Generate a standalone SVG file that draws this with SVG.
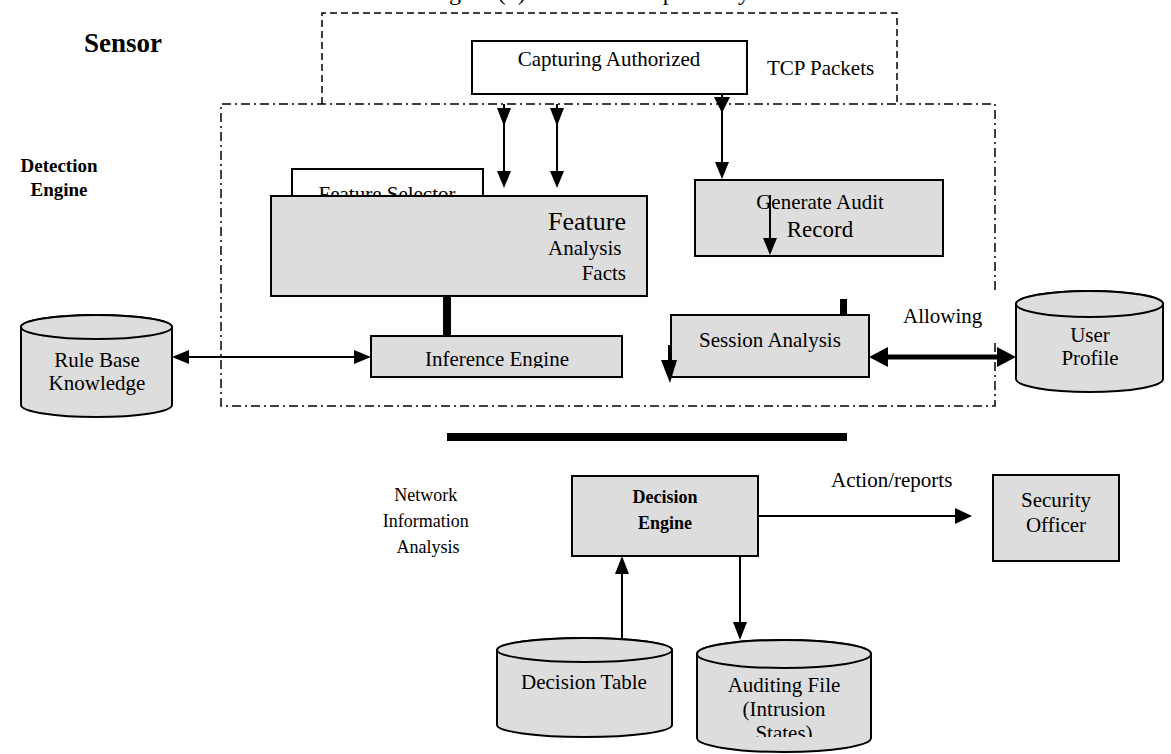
<svg xmlns="http://www.w3.org/2000/svg" width="1171" height="754" viewBox="0 0 1171 754">
  <style>
    text { font-family: "Liberation Serif", "Times New Roman", serif; fill: #000; }
    .t21 { font-size: 21px; }
    .mid { text-anchor: middle; }
    .bold { font-weight: bold; }
    .box { fill: #dddddd; stroke: #000; stroke-width: 2; }
    .wbox { fill: #fff; stroke: #000; stroke-width: 2; }
    .cyl { fill: #dddddd; stroke: #000; stroke-width: 2; }
    .dash { fill: none; stroke: #000; stroke-width: 1.5; stroke-dasharray: 7 4; }
    .dashdot { fill: none; stroke: #000; stroke-width: 1.5; stroke-dasharray: 9 4 2 4; }
    .line { stroke: #000; stroke-width: 2; fill: none; }
    .head { fill: #000; stroke: none; }
  </style>
  <defs>
    <clipPath id="clipInference"><rect x="371" y="336" width="251" height="32"/></clipPath>
    <clipPath id="clipAudit"><rect x="697" y="660" width="174" height="77"/></clipPath>
  </defs>

  <rect width="1171" height="754" fill="#fff"/>

  <!-- caption running off the top edge -->
  <text x="429" y="-0.5" style="font-size:24px">Figure (1)</text>
  <text x="586" y="-0.5" style="font-size:24px">The Proposed System</text>

  <!-- sensor boundary (dashed) -->
  <g id="sensor-area">
    <path class="dash" d="M322,104 V13 H897 V104"/>
    <text x="84" y="52" class="bold" style="font-size:27px">Sensor</text>
  </g>

  <!-- detection engine boundary (dash-dot) -->
  <g id="detection-area">
    <path class="dashdot" d="M995,290 V104 H221 V406 H995 V340"/>
    <text x="59" y="172" class="mid bold" style="font-size:19px">Detection</text>
    <text x="59" y="196" class="mid bold" style="font-size:19px">Engine</text>
  </g>

  <g id="capturing">
    <rect class="wbox" x="472" y="41" width="275" height="53"/>
    <text x="609" y="66" class="t21 mid">Capturing Authorized</text>
  </g>
  <text id="tcp-label" x="767" y="75" class="t21">TCP Packets</text>

  <g id="feature-selector">
    <rect class="wbox" x="292" y="169" width="191" height="40"/>
    <text x="387" y="201" class="t21 mid">Feature Selector</text>
  </g>

  <g id="feature-analysis">
    <rect class="box" x="271" y="196" width="376" height="100"/>
    <text x="626" y="230" style="font-size:26px" text-anchor="end">Feature</text>
    <text x="548" y="255" class="t21">Analysis</text>
    <text x="626" y="280" class="t21" text-anchor="end">Facts</text>
  </g>

  <g id="inference-engine">
    <rect class="box" x="371" y="336" width="251" height="41"/>
    <text x="497" y="366" class="t21 mid" clip-path="url(#clipInference)">Inference Engine</text>
  </g>

  <g id="generate-audit">
    <rect class="box" x="695" y="180" width="248" height="76"/>
    <text x="820" y="209" class="t21 mid">Generate Audit</text>
    <text x="820" y="237" class="mid" style="font-size:23px">Record</text>
  </g>

  <g id="session-analysis">
    <rect class="box" x="671" y="315" width="198" height="62"/>
    <text x="770" y="347" class="t21 mid">Session Analysis</text>
  </g>

  <g id="rule-base">
    <path class="cyl" d="M21,327 V405 A75.5,12 0 0 0 172,405 V327 A75.5,12 0 0 0 21,327 Z"/>
    <ellipse class="cyl" cx="96.5" cy="327" rx="75.5" ry="12"/>
    <text x="97" y="367" class="t21 mid">Rule Base</text>
    <text x="97" y="390" class="t21 mid">Knowledge</text>
  </g>

  <g id="user-profile">
    <path class="cyl" d="M1016,304 V379 A73.5,13 0 0 0 1163,379 V304 A73.5,13 0 0 0 1016,304 Z"/>
    <ellipse class="cyl" cx="1089.5" cy="304" rx="73.5" ry="13"/>
    <text x="1090" y="342" class="t21 mid">User</text>
    <text x="1090" y="365" class="t21 mid">Profile</text>
  </g>
  <text id="allowing-label" x="903" y="323" class="t21">Allowing</text>

  <text id="network-label" class="mid" style="font-size:18px">
    <tspan x="428" y="501">Network</tspan>
    <tspan x="428" y="527">Information</tspan>
    <tspan x="428" y="553">Analysis</tspan>
  </text>

  <g id="decision-engine">
    <rect class="box" x="572" y="476" width="186" height="80"/>
    <text x="665" y="503" class="mid bold" style="font-size:18px">Decision</text>
    <text x="665" y="529" class="mid bold" style="font-size:18px">Engine</text>
  </g>
  <text id="action-label" x="831" y="487" class="t21">Action/reports</text>

  <g id="security-officer">
    <rect class="box" x="993" y="475" width="126" height="86"/>
    <text x="1056" y="507" class="t21 mid">Security</text>
    <text x="1056" y="532" class="t21 mid">Officer</text>
  </g>

  <g id="decision-table">
    <path class="cyl" d="M497,650 V725 A87.5,12 0 0 0 672,725 V650 A87.5,12 0 0 0 497,650 Z"/>
    <ellipse class="cyl" cx="584.5" cy="650" rx="87.5" ry="12"/>
    <text x="584" y="689" class="t21 mid">Decision Table</text>
  </g>

  <g id="auditing-file">
    <path class="cyl" d="M697,654 V738 A87,14 0 0 0 871,738 V654 A87,14 0 0 0 697,654 Z"/>
    <ellipse class="cyl" cx="784" cy="654" rx="87" ry="14"/>
    <g clip-path="url(#clipAudit)">
      <text x="784" y="692" class="t21 mid">Auditing File</text>
      <text x="784" y="716" class="t21 mid">(Intrusion</text>
      <text x="784" y="740" class="t21 mid">States)</text>
    </g>
  </g>

  <!-- connectors -->
  <g id="connectors">
    <!-- packets into feature analysis -->
    <line class="line" x1="504" y1="104" x2="504" y2="176"/>
    <polygon class="head" points="497,108 511,108 504,126"/>
    <polygon class="head" points="497,171 511,171 504,188"/>
    <line class="line" x1="557" y1="104" x2="557" y2="176"/>
    <polygon class="head" points="550,108 564,108 557,126"/>
    <polygon class="head" points="550,171 564,171 557,188"/>

    <!-- capture to audit record -->
    <line class="line" x1="722" y1="94" x2="722" y2="168"/>
    <polygon class="head" points="714,97 730,97 722,113"/>
    <polygon class="head" points="715,162 729,162 722,179"/>

    <!-- inside audit record -->
    <line class="line" x1="770" y1="195" x2="770" y2="242"/>
    <polygon class="head" points="763,238 777,238 770,255"/>

    <!-- feature facts to inference -->
    <rect class="head" x="443" y="297" width="8" height="39"/>

    <!-- rule base <-> inference -->
    <line class="line" x1="186" y1="357" x2="357" y2="357"/>
    <polygon class="head" points="172,357 189,350 189,364"/>
    <polygon class="head" points="371,357 354,350 354,364"/>

    <!-- session analysis stubs -->
    <rect class="head" x="840" y="299" width="7" height="16"/>
    <rect class="head" x="668" y="345" width="4" height="18"/>
    <polygon class="head" points="661,360 677,360 670,383"/>

    <!-- session <-> user profile -->
    <line x1="885" y1="357" x2="1000" y2="357" stroke="#000" stroke-width="5"/>
    <polygon class="head" points="869,357 888,347 888,367"/>
    <polygon class="head" points="1016,357 997,347 997,367"/>

    <!-- separator bar -->
    <rect class="head" x="447" y="433" width="400" height="8"/>

    <!-- decision engine to security officer -->
    <line class="line" x1="758" y1="516" x2="958" y2="516"/>
    <polygon class="head" points="972,516 955,508 955,524"/>

    <!-- decision table up to decision engine -->
    <line class="line" x1="622" y1="638" x2="622" y2="570"/>
    <polygon class="head" points="622,556 615,574 629,574"/>

    <!-- decision engine down to auditing file -->
    <line class="line" x1="740" y1="556" x2="740" y2="626"/>
    <polygon class="head" points="740,640 733,622 747,622"/>
  </g>
</svg>
